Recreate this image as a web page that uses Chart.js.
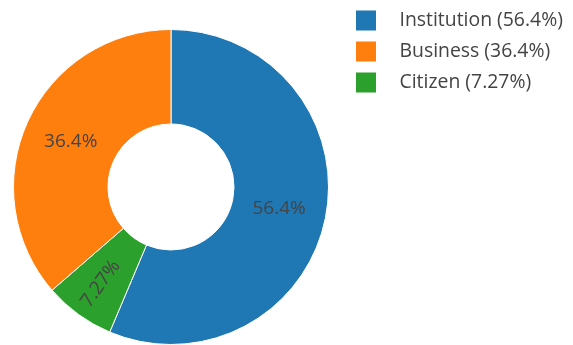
<!DOCTYPE html>
<html>
<head>
<meta charset="utf-8">
<script src="https://cdn.jsdelivr.net/npm/chart.js@4/dist/chart.umd.min.js"></script>
<style>
  html, body { margin: 0; padding: 0; background: #fff; }
  #wrap { width: 573px; height: 345px; }
</style>
</head>
<body>
<div id="wrap"><canvas id="c" width="573" height="345"></canvas></div>
<script>
// Slice order runs clockwise from 12 o'clock
const categories = ['Institution', 'Citizen', 'Business'];
const shares = [56.4, 7.27, 36.4];          // percent of total
const colors = ['#1f77b4', '#2ca02c', '#ff7f0e'];

const TEXT_COLOR = '#444';
const FONT = '19px "Open Sans"';
const LEGEND_FONT = '19.4px "Open Sans"';

const fmt = v => String(v) + '%';

// Percent text inside each slice; narrow slices get radial text,
// pushed toward the wider outer part of the ring
const sliceLabels = {
  id: 'sliceLabels',
  afterDatasetsDraw(chart) {
    const ctx = chart.ctx;
    const meta = chart.getDatasetMeta(0);
    ctx.save();
    ctx.font = FONT;
    ctx.fillStyle = TEXT_COLOR;
    ctx.textAlign = 'center';
    ctx.textBaseline = 'middle';
    meta.data.forEach((arc, i) => {
      const p = arc.getProps(['startAngle', 'endAngle', 'innerRadius', 'outerRadius', 'x', 'y'], true);
      const mid = (p.startAngle + p.endAngle) / 2;
      const ring = p.outerRadius - p.innerRadius;
      let r = p.innerRadius + ring / 2;
      const text = fmt(shares[i]);
      const w = ctx.measureText(text).width;
      const chord = (p.endAngle - p.startAngle) * r;
      const radial = chord < w * 1.2;
      if (radial) r = p.innerRadius + ring * 0.6;
      ctx.save();
      ctx.translate(p.x + Math.cos(mid) * r, p.y + Math.sin(mid) * r);
      if (radial) {
        let rot = mid;
        if (Math.cos(rot) < 0) rot += Math.PI;
        ctx.rotate(rot);
      }
      ctx.fillText(text, 0, 0);
      ctx.restore();
    });
    ctx.restore();
  }
};

// Legend listed by share, largest first
const sideLegend = {
  id: 'sideLegend',
  afterDraw(chart) {
    const ctx = chart.ctx;
    const order = categories.map((_, i) => i).sort((a, b) => shares[b] - shares[a]);
    ctx.save();
    ctx.font = LEGEND_FONT;
    ctx.textAlign = 'left';
    ctx.textBaseline = 'middle';
    order.forEach((idx, row) => {
      const cy = 20.5 + row * 31;
      ctx.fillStyle = colors[idx];
      ctx.fillRect(356, cy - 10, 20, 20);
      ctx.fillStyle = TEXT_COLOR;
      ctx.fillText(categories[idx] + ' (' + fmt(shares[idx]) + ')', 399.5, cy);
    });
    ctx.restore();
  }
};

new Chart(document.getElementById('c'), {
  type: 'doughnut',
  data: {
    labels: categories,
    datasets: [{
      data: shares,
      backgroundColor: colors,
      borderColor: '#ffffff',
      borderWidth: 1,
      hoverOffset: 0
    }]
  },
  options: {
    responsive: false,
    animation: false,
    cutout: '40%',
    layout: { padding: { left: 13, right: 244, top: 29, bottom: 0 } },
    plugins: {
      legend: { display: false },
      tooltip: { enabled: false }
    }
  },
  plugins: [sliceLabels, sideLegend]
});
</script>
</body>
</html>
